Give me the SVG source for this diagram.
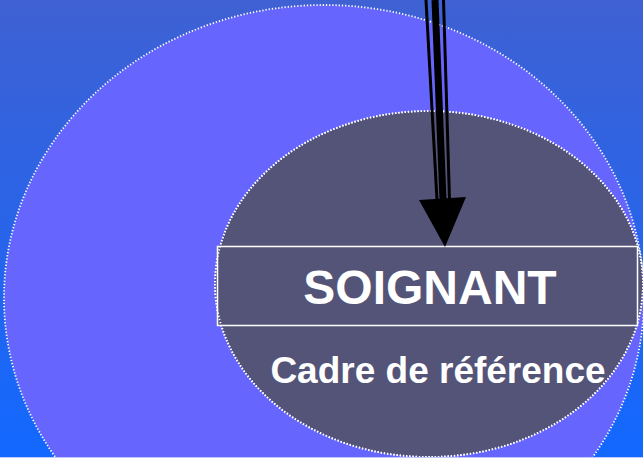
<svg xmlns="http://www.w3.org/2000/svg" width="643" height="458" viewBox="0 0 643 458">
  <defs>
    <linearGradient id="bg" x1="0" y1="0" x2="0" y2="1">
      <stop offset="0" stop-color="#3F61D3"/>
      <stop offset="1" stop-color="#1268FF"/>
    </linearGradient>
    <style>
      .dotted { stroke: #FFFFFF; stroke-width: 1.8; stroke-dasharray: 1.3 1.9; }
      .dark { fill: #545479; }
      .lbl { fill: #FFFFFF; font-family: "Liberation Sans", Arial, sans-serif; font-weight: bold; text-anchor: middle; }
      .shaft { stroke: #000000; stroke-linecap: butt; }
    </style>
  </defs>
  <rect id="background" x="0" y="0" width="643" height="458" fill="url(#bg)"/>
  <g id="outer">
    <ellipse cx="324" cy="298" rx="320" ry="293" fill="#6666FF" class="dotted"/>
  </g>
  <g id="inner">
    <ellipse cx="429" cy="284" rx="214" ry="173" class="dark dotted"/>
  </g>
  <g id="soignant">
    <rect x="217.5" y="246.5" width="420" height="79" class="dark" stroke="#FFFFFF" stroke-width="1.5"/>
    <ellipse cx="429" cy="284" rx="214" ry="173" fill="none" class="dotted"/>
    <text x="430" y="304" font-size="48" class="lbl">SOIGNANT</text>
  </g>
  <g id="cadre">
    <text x="438" y="383" font-size="37" class="lbl">Cadre de référence</text>
  </g>
  <g id="connectors">
    <line x1="426" y1="0" x2="437" y2="200" class="shaft" stroke-width="3"/>
    <line x1="435" y1="0" x2="443" y2="200" class="shaft" stroke-width="7"/>
    <line x1="443.5" y1="0" x2="449.5" y2="200" class="shaft" stroke-width="3"/>
    <polygon points="419,200 466,197 445,247" fill="#000000"/>
  </g>
  <line x1="0" y1="457.5" x2="643" y2="457.5" stroke="#C0C8FF" stroke-width="1"/>
</svg>
